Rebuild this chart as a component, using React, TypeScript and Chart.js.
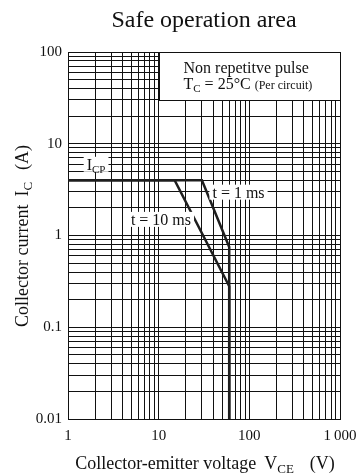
import React, { useEffect, useRef } from 'react';
import { Chart, registerables } from 'chart.js';

Chart.register(...registerables);

// Axis decades and their printed labels
const vceTicks = [1, 10, 100, 1000];
const vceTickLabels = ['1', '10', '100', '1\u2009000'];
const icTicks = [0.01, 0.1, 1, 10, 100];
const icTickLabels = ['0.01', '0.1', '1', '10', '100'];

// Peak pulse collector current (A)
const icpCurrent = 4;

// SOA boundary, 10 ms pulse
const pulse10msVce = [1, 15, 60, 60];
const pulse10msIc = [icpCurrent, icpCurrent, 0.28, 0.01];

// SOA boundary, 1 ms pulse
const pulse1msVce = [1, 30, 60, 60];
const pulse1msIc = [icpCurrent, icpCurrent, 0.75, 0.01];

// Curve captions anchored in data coordinates (VCE, IC)
const curveCaptions = ['t = 1 ms', 't = 10 ms'];
const curveCaptionVce = [76, 10.6];
const curveCaptionIc = [2.93, 1.48];
const icpCaptionVce = 2.04;
const icpCaptionIc = 5.9;

// Note panel extent (VCE range, IC range)
const noteVce = [10, 1000];
const noteIc = [30, 100];

const SERIF = "'Liberation Serif', 'Times New Roman', Times, serif";
const INK = '#111';
const CURVE = '#1e1e1e';

function logGrid(lo: number, hi: number): number[] {
  const out: number[] = [];
  const e0 = Math.round(Math.log10(lo));
  const e1 = Math.round(Math.log10(hi));
  for (let e = e0; e < e1; e++) {
    for (let m = 1; m < 10; m++) out.push(parseFloat((m * Math.pow(10, e)).toPrecision(6)));
  }
  out.push(hi);
  return out;
}

function decadeLabel(v: number, ticks: number[], labels: string[]): string {
  for (let i = 0; i < ticks.length; i++) {
    if (Math.abs(Math.log10(v) - Math.log10(ticks[i])) < 1e-6) return labels[i];
  }
  return '';
}

type Run = { t?: string; size?: number; dy?: number; gap?: number };

function runsWidth(ctx: CanvasRenderingContext2D, runs: Run[]): number {
  let w = 0;
  for (const r of runs) {
    if (r.gap) { w += r.gap; continue; }
    ctx.font = `${r.size}px ${SERIF}`;
    w += ctx.measureText(r.t || '').width;
  }
  return w;
}

function drawRuns(ctx: CanvasRenderingContext2D, runs: Run[], x: number, y: number, align: 'left' | 'center') {
  const w = runsWidth(ctx, runs);
  let cx = align === 'center' ? x - w / 2 : x;
  ctx.textAlign = 'left';
  ctx.textBaseline = 'alphabetic';
  for (const r of runs) {
    if (r.gap) { cx += r.gap; continue; }
    ctx.font = `${r.size}px ${SERIF}`;
    ctx.fillText(r.t || '', cx, y + (r.dy || 0));
    cx += ctx.measureText(r.t || '').width;
  }
  return w;
}

const soaDecor = {
  id: 'soaDecor',
  beforeDatasetsDraw(chart: any) {
    const { ctx, scales } = chart;
    const x0 = Math.round(scales.x.getPixelForValue(noteVce[0])) + 0.5;
    const x1 = Math.round(scales.x.getPixelForValue(noteVce[1])) + 0.5;
    const y0 = Math.round(scales.y.getPixelForValue(noteIc[1])) + 0.5;
    const y1 = Math.round(scales.y.getPixelForValue(noteIc[0])) + 0.5;
    ctx.save();
    ctx.fillStyle = '#fff';
    ctx.fillRect(x0, y0, x1 - x0, y1 - y0);
    ctx.strokeStyle = INK;
    ctx.lineWidth = 1;
    ctx.strokeRect(x0, y0, x1 - x0, y1 - y0);
    ctx.fillStyle = INK;
    drawRuns(ctx, [{ t: 'Non repetitve pulse', size: 16 }], x0 + 24, y0 + 20, 'left');
    drawRuns(ctx, [
      { t: 'T', size: 16 },
      { t: 'C', size: 11, dy: 3 },
      { t: ' = 25\u00b0C ', size: 16 },
      { t: '(Per circuit)', size: 12 },
    ], x0 + 24, y0 + 36, 'left');
    ctx.restore();
  },
  afterDatasetsDraw(chart: any) {
    const { ctx, scales } = chart;
    ctx.save();
    const label = (runs: Run[], cx: number, cy: number) => {
      const w = runsWidth(ctx, runs);
      ctx.fillStyle = '#fff';
      ctx.fillRect(cx - w / 2 - 3, cy - 8, w + 6, 15);
      ctx.fillStyle = INK;
      drawRuns(ctx, runs, cx, cy + 5, 'center');
    };
    curveCaptions.forEach((t, i) => {
      label([{ t, size: 16 }], scales.x.getPixelForValue(curveCaptionVce[i]), scales.y.getPixelForValue(curveCaptionIc[i]));
    });
    label([{ t: 'I', size: 16 }, { t: 'CP', size: 11, dy: 3 }],
      scales.x.getPixelForValue(icpCaptionVce), scales.y.getPixelForValue(icpCaptionIc));
    ctx.restore();
  },
  afterDraw(chart: any) {
    const { ctx, chartArea } = chart;
    const midX = (chartArea.left + chartArea.right) / 2;
    ctx.save();
    ctx.fillStyle = INK;
    // Chart title
    drawRuns(ctx, [{ t: 'Safe operation area', size: 24 }], midX, 27, 'center');
    // X axis title
    drawRuns(ctx, [
      { t: 'Collector-emitter voltage', size: 18 },
      { gap: 8 },
      { t: 'V', size: 18 },
      { t: 'CE', size: 13, dy: 4 },
      { gap: 16 },
      { t: '(V)', size: 18 },
    ], 205, 469, 'center');
    // Y axis title (rotated)
    ctx.translate(28, 236);
    ctx.rotate(-Math.PI / 2);
    drawRuns(ctx, [
      { t: 'Collector current', size: 18 },
      { gap: 8 },
      { t: 'I', size: 18 },
      { t: 'C', size: 13, dy: 4 },
      { gap: 12 },
      { t: '(A)', size: 18 },
    ], 0, 0, 'center');
    ctx.restore();
  },
};

const xGrid = logGrid(vceTicks[0], vceTicks[vceTicks.length - 1]);
const yGrid = logGrid(icTicks[0], icTicks[icTicks.length - 1]);

export default function App() {
  const ref = useRef<HTMLCanvasElement>(null);

  useEffect(() => {
    if (!ref.current) return;
    const toPoints = (xs: number[], ys: number[]) => xs.map((x, i) => ({ x, y: ys[i] }));
    const lineStyle = {
      borderColor: CURVE,
      borderWidth: 2.5,
      pointRadius: 0,
      tension: 0,
      borderJoinStyle: 'miter' as const,
      fill: false,
    };
    const chart = new Chart(ref.current, {
      type: 'line',
      data: {
        datasets: [
          { label: '1 ms', data: toPoints(pulse1msVce, pulse1msIc), ...lineStyle },
          { label: '10 ms', data: toPoints(pulse10msVce, pulse10msIc), ...lineStyle },
        ],
      },
      options: {
        animation: false,
        responsive: false,
        events: [],
        layout: { padding: { top: 52, right: 16, left: 0, bottom: 0 } },
        plugins: {
          legend: { display: false },
          tooltip: { enabled: false },
          title: { display: false },
        },
        scales: {
          x: {
            type: 'logarithmic',
            min: vceTicks[0],
            max: vceTicks[vceTicks.length - 1],
            afterBuildTicks: (s: any) => { s.ticks = xGrid.map((v) => ({ value: v })); },
            afterFit: (s: any) => { s.height = 54; s.paddingLeft = 0; s.paddingRight = 0; },
            grid: { color: INK, lineWidth: 1, drawTicks: false },
            border: { color: INK, width: 1 },
            ticks: {
              autoSkip: false,
              maxRotation: 0,
              padding: 8,
              color: INK,
              font: { family: SERIF, size: 15 },
              callback: (v: any) => decadeLabel(Number(v), vceTicks, vceTickLabels),
            },
          },
          y: {
            type: 'logarithmic',
            min: icTicks[0],
            max: icTicks[icTicks.length - 1],
            afterBuildTicks: (s: any) => { s.ticks = yGrid.map((v) => ({ value: v })); },
            afterFit: (s: any) => { s.width = 68; s.paddingTop = 0; s.paddingBottom = 0; },
            grid: { color: INK, lineWidth: 1, drawTicks: false },
            border: { color: INK, width: 1 },
            ticks: {
              autoSkip: false,
              padding: 6,
              color: INK,
              font: { family: SERIF, size: 15 },
              callback: (v: any) => decadeLabel(Number(v), icTicks, icTickLabels),
            },
          },
        },
      } as any,
      plugins: [soaDecor],
    });
    return () => chart.destroy();
  }, []);

  return (
    <div style={{ position: 'absolute', left: 0, top: 0, width: 356, height: 473, background: '#fff' }}>
      <canvas ref={ref} width={356} height={473} style={{ display: 'block', width: 356, height: 473 }} />
    </div>
  );
}
